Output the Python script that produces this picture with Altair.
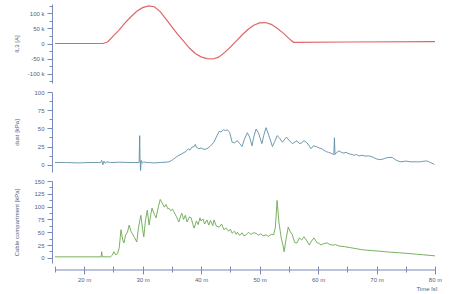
import altair as alt
import pandas as pd

# ---- data (time in minutes) ----
il3_t = [15, 22, 23.2, 24, 25, 26, 27, 28, 29, 30, 31, 32, 33, 34, 35, 36, 37, 38, 39, 40,
         41, 42, 43, 44, 45, 46, 47, 48, 49, 50, 51, 52, 53, 54, 55, 55.8, 56, 65, 80]
il3_v = [0, 0, 0, 5000, 25000, 45000, 68000, 88000, 106000, 118000, 124000, 121000, 105000,
         80000, 55000, 30000, 8000, -15000, -33000, -44000, -50000, -51000, -45000, -30000,
         -12000, 8000, 28000, 46000, 60000, 68000, 69000, 63000, 50000, 35000, 17000, 4000,
         4000, 5000, 6000]

dust_t = [15, 17, 19, 21, 22.8, 23.0, 23.2, 23.4, 23.6, 23.9, 24.5, 26, 28, 29.4, 29.5, 29.55,
          29.65, 29.75, 29.9, 30.2, 30.6, 31, 32, 33, 34, 34.5, 35, 35.5, 36, 36.7, 37.1, 37.4,
          37.8, 38.1, 38.4, 38.8, 39.0, 39.2, 39.6, 40.0, 40.5, 41.0, 41.5, 42.2, 42.6, 43.1,
          43.4, 43.8, 44.2, 44.5, 44.9, 45.3, 45.7, 46.2, 46.6, 47.0, 47.4, 47.9, 48.3, 48.7,
          49.0, 49.4, 49.8, 50.4, 50.7, 51.1, 51.6, 52.2, 52.6, 53.0, 53.4, 53.9, 54.2, 54.6,
          55.0, 55.6, 56.0, 56.4, 56.8, 57.2, 57.6, 58.0, 58.4, 58.8, 59.2, 59.7, 60.2, 60.6,
          61.0, 61.4, 61.8, 62.2, 62.4, 62.7, 62.8, 62.9, 63.2, 63.6, 64.0, 64.4, 64.8, 65.3,
          65.8, 66.2, 66.6, 67.0, 67.5, 68.0, 68.8, 69.5, 70.0, 70.5, 71.0, 71.5, 72.0, 72.7,
          73.2, 73.7, 74.2, 75.0, 75.8, 76.8, 77.5, 78.2, 78.7, 79.2, 79.9]
dust_v = [3, 3, 2.5, 3, 3, 6, 0, 5, 2, 4, 3, 3.5, 3, 3, 40, 10,
          -8, 6, 2, 4, 3, 3, 2.5, 3, 3.5, 4, 6, 9, 12, 15, 17, 18,
          22, 20, 24, 25, 28, 24, 22, 23, 21, 22, 25, 31, 38, 46,
          45, 48, 47, 48, 44, 31, 30, 33, 29, 25, 35, 44, 38, 26,
          38, 49, 44, 29, 40, 51, 40, 25, 32, 40, 37, 31, 34, 38,
          34, 29, 31, 33, 29, 30, 33, 31, 27, 22, 26, 25, 23, 22,
          20, 18, 17, 16, 15, 14, 37, 14, 17, 19, 17, 16, 17, 15,
          14, 13, 14, 12, 13, 12, 12, 10, 8, 7, 7.5, 9, 10, 10,
          7, 5, 4, 5, 4, 4, 4, 5, 5, 3, 0.5]

cable_t = [15, 20, 22.9, 23.0, 23.1, 24.5, 24.8, 25.1, 25.4, 25.7, 26.0, 26.3, 26.6, 26.8, 27.1,
           27.4, 27.7, 28.0, 28.2, 28.6, 29.0, 29.3, 29.7, 30.0, 30.2, 30.5, 30.8, 31.1, 31.4,
           31.6, 32.0, 32.3, 32.7, 33.0, 33.3, 33.7, 34.0, 34.3, 34.5, 34.8, 35.1, 35.4, 35.8,
           36.2, 36.5, 36.7, 37.0, 37.3, 37.6, 38.0, 38.3, 38.6, 38.8, 39.2, 39.5, 39.8, 40.0,
           40.3, 40.6, 41.0, 41.3, 41.6, 42.0, 42.2, 42.6, 43.1, 43.5, 43.9, 44.3, 44.7, 45.0,
           45.3, 45.7, 46.0, 46.2, 46.6, 47.0, 47.3, 47.7, 48.1, 48.5, 49.0, 49.4, 49.8, 50.2,
           50.6, 51.1, 51.5, 52.0, 52.4, 52.7, 53.0, 53.3, 53.7, 54.0, 54.2, 54.5, 54.9, 55.2,
           55.6, 56.0, 56.4, 56.8, 57.2, 57.6, 58.0, 58.5, 58.9, 59.3, 59.8, 60.2, 60.5, 61.0,
           61.6, 62.0, 62.6, 63.0, 63.6, 64.5, 65.5, 66.5, 67.5, 68.3, 69.5, 70.5, 71.5, 72.5,
           73.9, 75, 76, 77, 78, 79, 80]
cable_v = [2, 2, 2, 12, 2, 2, 5, 12, 6, 8, 20, 55, 35, 29, 45,
           50, 64, 52, 48, 40, 31, 60, 83, 55, 41, 75, 93, 64, 85,
           97, 85, 78, 100, 114, 108, 99, 104, 96, 97, 92, 95, 89, 80,
           70, 82, 87, 75, 83, 70, 80, 78, 65, 58, 72, 65, 78, 72,
           76, 66, 74, 64, 73, 63, 74, 62, 60, 66, 55, 58, 52, 56,
           48, 52, 46, 50, 44, 49, 43, 45, 50, 46, 49, 48, 44, 47,
           43, 45, 42, 46, 45, 60, 112, 70, 39, 25, 12, 35, 60, 52,
           45, 30, 29, 39, 35, 41, 35, 25, 33, 39, 30, 28, 25, 28,
           29, 26, 25, 26, 23, 22, 20, 18, 16, 15, 14, 13, 12, 11,
           10, 9, 8, 7, 6, 5, 4]

x_ticks = [15, 20, 25, 30, 35, 40, 45, 50, 55, 60, 65, 70, 75, 80]
x_span = [15, 80]
il3_ticks = [-125000, -100000, -75000, -50000, -25000, 0, 25000, 50000, 75000, 100000, 125000]
dust_ticks = [0, 12.5, 25, 37.5, 50, 62.5, 75, 87.5, 100]
cable_ticks = [0, 12.5, 25, 37.5, 50, 62.5, 75, 87.5, 100, 112.5, 125, 137.5, 150]

df_il3 = pd.DataFrame({"t": il3_t, "v": il3_v})
df_dust = pd.DataFrame({"t": dust_t, "v": dust_v})
df_cable = pd.DataFrame({"t": cable_t, "v": cable_v})
df_span = pd.DataFrame({"a": [x_span[0]], "b": [x_span[1]]})

W = 383
AX = "#7a8ab8"
LAB = "#55607a"
FONT = "Liberation Sans"
xscale = alt.Scale(domain=[14.5, 80], nice=False, zero=False)


def yaxis(title, values, labexpr, test, h):
    return alt.Axis(
        title=title, values=values, labelExpr=labexpr, grid=False,
        tickSize={"condition": {"test": test, "value": 5}, "value": 3},
        domainColor=AX, tickColor=AX, labelColor=LAB, titleColor=LAB,
        labelFontSize=6, titleFontSize=6, labelFont=FONT, titleFont=FONT,
        labelPadding=3, titleFontWeight="normal", titleX=-36, titleY=h / 2,
        titleAngle=270, titleAlign="center", titleBaseline="middle",
        labelOverlap=False, labelFlush=False,
    )


H1, H2, H3 = 79, 80, 82

top = alt.Chart(df_il3).mark_line(color="#e06666", strokeWidth=1.2).encode(
    x=alt.X("t:Q", scale=xscale, axis=None),
    y=alt.Y("v:Q", scale=alt.Scale(domain=[-130000, 130000], nice=False),
            axis=yaxis("IL3 [A]", il3_ticks,
                       "datum.value % 50000 === 0 ? (datum.value === 0 ? '0' : (datum.value/1000) + ' k') : ''",
                       "datum.value % 50000 === 0", H1)),
).properties(width=W, height=H1)

mid = alt.Chart(df_dust).mark_line(color="#5e8fa8", strokeWidth=0.9).encode(
    x=alt.X("t:Q", scale=xscale, axis=None),
    y=alt.Y("v:Q", scale=alt.Scale(domain=[-10, 100], nice=False),
            axis=yaxis("dust [kPa]", dust_ticks,
                       "datum.value % 25 === 0 ? datum.value : ''",
                       "datum.value % 25 === 0", H2)),
).properties(width=W, height=H2)

xaxis = alt.Axis(values=x_ticks, grid=False, domain=False, offset=3,
                 labelExpr="datum.value % 10 === 0 ? datum.value + ' m' : ''",
                 tickSize={"condition": {"test": "datum.value % 10 === 0", "value": 8}, "value": 6},
                 tickColor=AX, labelColor=LAB, labelFontSize=6, labelFont=FONT,
                 labelPadding=2, labelOverlap=False, labelFlush=False,
                 title="Time [s]", titleFontSize=6, titleFont=FONT, titleColor=LAB,
                 titleFontWeight="normal", titleX=W + 2, titleY=22,
                 titleAlign="right", titleBaseline="middle")

bot_line = alt.Chart(df_cable).mark_line(color="#6aa84f", strokeWidth=0.9).encode(
    x=alt.X("t:Q", scale=xscale, axis=xaxis),
    y=alt.Y("v:Q", scale=alt.Scale(domain=[-10, 150], nice=False),
            axis=yaxis("Cable compartment [kPa]", cable_ticks,
                       "datum.value % 25 === 0 ? datum.value : ''",
                       "datum.value % 25 === 0", H3)),
)

bot_rule = alt.Chart(df_span).mark_rule(color=AX, strokeWidth=1).encode(
    x=alt.X("a:Q", scale=xscale, axis=xaxis), x2="b:Q", y=alt.value(H3 + 7),
)

bot = alt.layer(bot_line, bot_rule).properties(width=W, height=H3)

chart = alt.vconcat(top, mid, bot, spacing=9, bounds="flush").properties(
    padding={"left": 13, "top": 2, "right": 0, "bottom": 0},
    background="white",
).configure_view(strokeWidth=0, stroke="transparent")

chart.save("out.html", embed_options={"renderer": "svg", "actions": False})
